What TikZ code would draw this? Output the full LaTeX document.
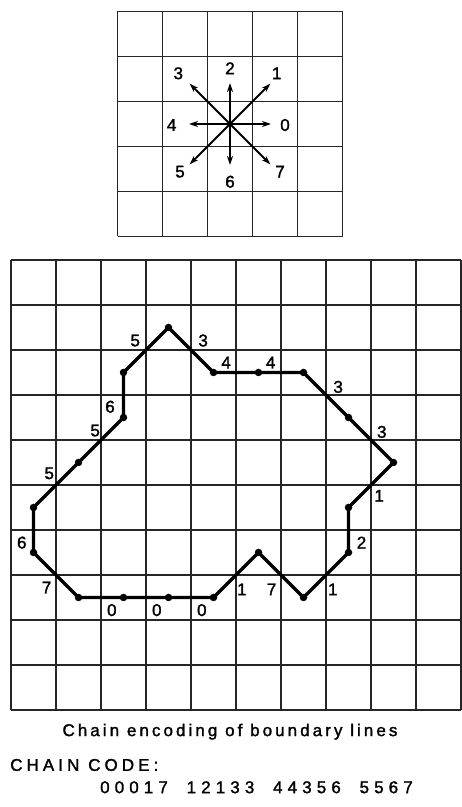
\documentclass[tikz,border=0pt]{standalone}
\usepackage{fontspec}
\setmainfont{Liberation Sans}[FakeBold=1.6]
\usetikzlibrary{arrows.meta}

\begin{document}
\begin{tikzpicture}[x=1pt, y=1pt, >={Stealth[length=9pt, width=6pt]},
    gridline/.style={line width=1.6pt, black!85},
    boundary/.style={line width=3.2pt, line join=round},
    vertex/.style={circle, fill, inner sep=0pt, minimum size=7.5pt},
    every node/.style={font=\fontsize{17}{17}\selectfont, inner sep=0pt}]
  \useasboundingbox (0,0) rectangle (462,807);

  % Direction grid
  \foreach \i in {0,...,5} {
    \draw[gridline] (117.5+45*\i, 570.5) -- (117.5+45*\i, 795.5);
    \draw[gridline] (117.5, 570.5+45*\i) -- (342.5, 570.5+45*\i);
  }

  % Direction arrows
  \coordinate (c) at (230,683);
  \foreach \d/\r in {0/41,1/57,2/41,3/57,4/41,5/57,6/41,7/57} {
    \coordinate (tip\d) at ([shift={(\d*45:\r)}]c);
    \draw[->, line width=1.8pt] (c) -- (tip\d);
  }
  \foreach \d/\x/\y in {0/285/682, 1/276.7/733.7, 2/230/738.7, 3/178.3/733.7,
                        4/171.7/682, 5/180/635.3, 6/230/625.3, 7/280/635.3} {
    \node (dir\d) at (\x,\y) {\d};
  }

  % Boundary grid
  \begin{scope}[shift={(11,97)}, x=45pt, y=45pt]
    \foreach \i in {0,...,10} {
      \draw[gridline] (\i,0) -- (\i,10);
      \draw[gridline] (0,\i) -- (10,\i);
    }

    % Boundary points, in chain order
    \foreach \n/\x/\y in {1/1.5/2.5, 2/2.5/2.5, 3/3.5/2.5, 4/4.5/2.5, 5/5.5/3.5,
                          6/6.5/2.5, 7/7.5/3.5, 8/7.5/4.5, 9/8.5/5.5, 10/7.5/6.5,
                          11/6.5/7.5, 12/5.5/7.5, 13/4.5/7.5, 14/3.5/8.5, 15/2.5/7.5,
                          16/2.5/6.5, 17/1.5/5.5, 18/0.5/4.5, 19/0.5/3.5} {
      \coordinate (p\n) at (\x,\y);
    }
    \draw[boundary] (p1) \foreach \n in {2,...,19} {-- (p\n)} -- cycle;
    \foreach \n in {1,...,19} {
      \node[vertex] (v\n) at (p\n) {};
    }

    % Chain code digits
    \foreach \n/\x/\y/\c in {1/2.24/2.22/0, 2/3.24/2.22/0, 3/4.24/2.22/0,
                             4/5.13/2.68/1, 5/5.79/2.68/7, 6/7.15/2.68/1,
                             7/7.79/3.72/2, 8/8.18/4.76/1, 9/8.24/6.18/3,
                             10/7.27/7.18/3, 11/5.77/7.72/4, 12/4.78/7.72/4,
                             13/4.27/8.21/3, 14/2.76/8.21/5, 15/2.2/6.74/6,
                             16/1.87/6.21/5, 17/0.85/5.26/5, 18/0.24/3.72/6,
                             19/0.79/2.72/7} {
      \node (code\n) at (\x,\y) {\c};
    }
  \end{scope}

  \node (caption) at (230,75.3) {\addfontfeature{LetterSpace=18}Chain encoding of boundary lines};
  \node[anchor=west] (chainhead) at (10,42) {\addfontfeature{LetterSpace=24}CHAIN CODE:};
  \node[anchor=west] (chaincode) at (100,19.7)
    {\addfontfeature{LetterSpace=30}00017\hspace{9pt} 12133\hspace{9pt} 44356\hspace{9pt} 5567};
\end{tikzpicture}
\end{document}
